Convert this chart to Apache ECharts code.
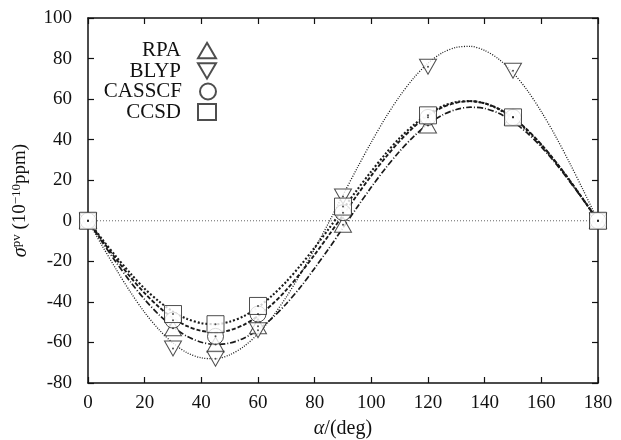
<!DOCTYPE html>
<html><head><meta charset="utf-8">
<script src="https://cdn.jsdelivr.net/npm/echarts@6/dist/echarts.min.js"></script>
<style>html,body{margin:0;padding:0;background:#fff}#c{width:621px;height:440px}</style>
</head><body><div id="c"></div>
<script>
const angles = [0, 30, 45, 60, 90, 120, 150, 180];
const rpa    = [0, -53, -61, -52, -2, 47, 51, 0];
const blyp   = [0, -63, -68, -54, 12, 76, 74, 0];
const casscf = [0, -49, -57, -46, 4, 51, 51, 0];
const ccsd   = [0, -46, -51, -42, 7, 52, 51, 0];

const fitAngles = [0,5,10,15,20,25,30,35,40,45,50,55,60,65,70,75,80,85,90,95,100,105,110,115,120,125,130,135,140,145,150,155,160,165,170,175,180];
const fitRpa    = [0,-10.5,-20.6,-30.2,-38.8,-46.3,-52.4,-57.0,-59.9,-61.0,-60.3,-57.9,-53.7,-48.0,-40.9,-32.7,-23.4,-13.7,-3.5,6.7,16.6,25.9,34.3,41.6,47.7,52.1,54.9,56.0,55.4,53.0,48.9,43.3,36.4,28.4,19.4,9.9,0];
const fitBlyp   = [0,-12.3,-24.1,-35.2,-45.2,-53.6,-60.3,-65.1,-67.6,-68.0,-66.1,-62.0,-55.7,-47.5,-37.6,-26.2,-13.8,-0.8,12.7,26.0,38.8,50.8,61.4,70.5,77.7,82.8,85.5,86.0,84.0,79.7,73.0,64.4,53.8,41.8,28.5,14.5,0];
const fitCasscf = [0,-9.7,-19.0,-27.8,-35.7,-42.5,-48.0,-52.0,-54.3,-55.0,-54.0,-51.3,-47.0,-41.2,-34.1,-25.8,-16.7,-7.1,2.8,12.7,22.3,31.2,39.3,46.2,51.8,55.9,58.2,59.0,57.9,55.2,50.8,44.9,37.7,29.2,20.0,10.1,0];
const fitCcsd   = [0,-9.1,-17.8,-26.0,-33.5,-39.7,-44.8,-48.4,-50.5,-51.0,-49.8,-47.0,-42.7,-36.9,-30.0,-22.0,-13.2,-3.9,5.7,15.3,24.4,33.0,40.8,47.3,52.5,56.4,58.6,59.0,57.9,55.0,50.5,44.5,37.3,29.0,19.8,10.1,0];

const pair = (xs, ys) => xs.map((x, i) => [x, ys[i]]);
const font = 'Liberation Serif';
const ink = '#111';

const symDown = 'path://M0,0 L20,0 L10,17 Z';
const symUp = 'path://M10,0 L20,17 L0,17 Z';

function pts(name, data, symbol, size) {
  return {
    name, type: 'scatter', data: pair(angles, data), symbol, symbolSize: size,
    itemStyle: { color: '#fff', borderColor: '#222', borderWidth: 1 }, z: 5
  };
}
function fit(data, dash, width) {
  return {
    type: 'line', data: pair(fitAngles, data), smooth: 0.3, showSymbol: false, symbol: 'none',
    lineStyle: { color: '#1a1a1a', width, type: dash }, z: 3, silent: true
  };
}
const dots = {
  type: 'scatter', symbol: 'circle', symbolSize: 2, z: 6, silent: true,
  itemStyle: { color: '#222' },
  data: [].concat(pair(angles, rpa), pair(angles, blyp), pair(angles, casscf), pair(angles, ccsd))
};

const legends = ['RPA', 'BLYP', 'CASSCF', 'CCSD'].map((n, i) => ({
  data: [n], right: 399, top: 35 + i * 20.5, itemWidth: 18, itemHeight: 16, align: 'right', itemGap: 4,
  textStyle: { fontFamily: font, fontSize: 21, color: ink, padding: [0, 12, 0, 0] },
  selectedMode: false
}));

const tickStyle = { inside: true, length: 6, lineStyle: { color: ink, width: 1.2 } };
const lineStyle = { onZero: false, lineStyle: { color: ink, width: 1.5 } };
const chart = echarts.init(document.getElementById('c'));
chart.setOption({
  animation: false,
  backgroundColor: '#fff',
  legend: legends,
  grid: { left: 88, right: 23, top: 18, bottom: 57, containLabel: false, outerBoundsMode: 'none' },
  xAxis: [
    { type: 'value', min: 0, max: 180, interval: 20, position: 'bottom',
      axisLine: lineStyle, axisTick: tickStyle,
      axisLabel: { fontFamily: font, fontSize: 19, color: ink, margin: 11 },
      splitLine: { show: false },
      name: '{i|α}/(deg)', nameLocation: 'middle', nameGap: 36,
      nameTextStyle: { fontFamily: font, fontSize: 20, color: ink, rich: { i: { fontFamily: font, fontStyle: 'italic', fontSize: 20 } } }
    },
    { type: 'value', min: 0, max: 180, interval: 20, position: 'top',
      axisLine: lineStyle, axisTick: tickStyle,
      axisLabel: { show: false }, splitLine: { show: false } }
  ],
  yAxis: [
    { type: 'value', min: -80, max: 100, interval: 20, position: 'left',
      axisLine: lineStyle, axisTick: tickStyle,
      axisLabel: { fontFamily: font, fontSize: 19, color: ink, margin: 16 },
      splitLine: { show: false },
      name: '{i|σ}{s|pv} (10{s|−10}ppm)', nameLocation: 'middle', nameGap: 57, nameRotate: 90,
      nameTextStyle: { fontFamily: font, fontSize: 19, color: ink,
        rich: { i: { fontFamily: font, fontStyle: 'italic', fontSize: 20 }, s: { fontFamily: font, fontSize: 13, verticalAlign: 'top', padding: [0,0,8,0] } } }
    },
    { type: 'value', min: -80, max: 100, interval: 20, position: 'right',
      axisLine: lineStyle, axisTick: tickStyle,
      axisLabel: { show: false }, splitLine: { show: false } }
  ],
  series: [
    { type: 'line', data: [[0, 0], [180, 0]], symbol: 'none', silent: true,
      lineStyle: { color: '#666', width: 1, type: [1, 2] }, z: 2 },
    fit(fitRpa, [6, 2, 1, 2], 1.7),
    fit(fitBlyp, [1, 1.5], 1.3),
    fit(fitCasscf, [4, 2], 1.9),
    fit(fitCcsd, [2, 2], 2.1),
    pts('RPA', rpa, symUp, [17, 15]),
    pts('BLYP', blyp, symDown, [17, 15]),
    pts('CASSCF', casscf, 'circle', 16),
    pts('CCSD', ccsd, 'rect', 17),
    dots
  ]
});
</script></body></html>
